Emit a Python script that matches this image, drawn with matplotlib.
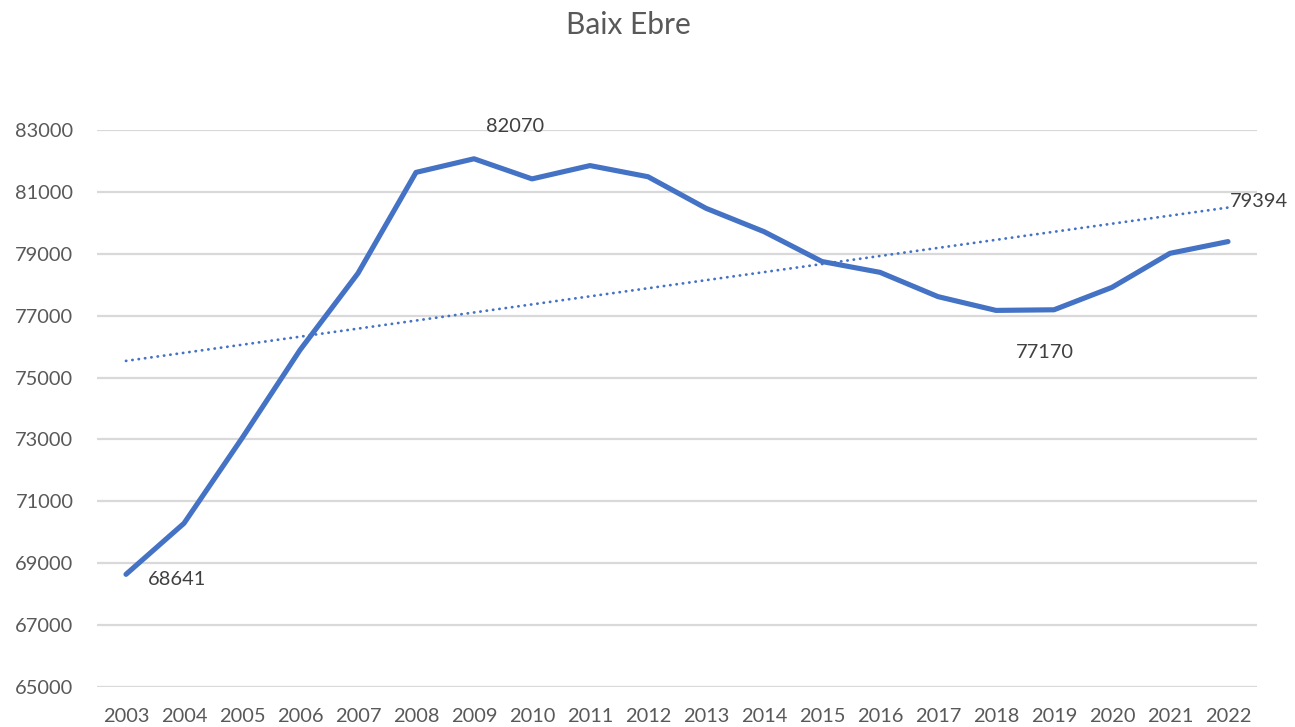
import matplotlib.pyplot as plt
import numpy as np

# -------------------------
# DATA
# -------------------------

years = [str(y) for y in range(2003, 2023)]

population = [
    68641, 70290, 73040, 75890, 78370, 81630, 82070, 81420, 81850, 81490,
    80470, 79715, 78750, 78400, 77615, 77170, 77190, 77915, 79015, 79394,
]

# labelled points: (index, offset in pixels, horizontal alignment)
labelled = [
    (0, (22, -5), 'left'),
    (6, (41, 32), 'center'),
    (15, (49, -42), 'center'),
    (19, (2, 40), 'left'),
]

y_ticks = list(range(65000, 83001, 2000))

# -------------------------
# STYLE
# -------------------------

line_color = '#4472C4'
grid_color = '#D9D9D9'
text_color = '#595959'
font = 'Lato'
label_size = 14.4

plt.rcParams['font.family'] = [font, 'DejaVu Sans']

fig = plt.figure(figsize=(12.95, 7.27), dpi=100)
ax = fig.add_axes([97 / 1295, 40 / 727, 1160 / 1295, 557 / 727])

x = np.arange(len(years))

# main series
ax.plot(
    x,
    population,
    color=line_color,
    linewidth=3.7,
    solid_capstyle='round',
    solid_joinstyle='round',
    zorder=3
)

# linear trendline
slope, intercept = np.polyfit(x, population, 1)
ax.plot(
    x,
    slope * x + intercept,
    color=line_color,
    linewidth=2.0,
    linestyle=(0, (0.1, 2.2)),
    dash_capstyle='round',
    zorder=2
)

# data labels
for idx, offset, ha in labelled:
    ax.annotate(
        str(population[idx]),
        (x[idx], population[idx]),
        xytext=offset,
        textcoords='offset pixels',
        ha=ha,
        va='center',
        fontsize=label_size,
        color='#404040',
        zorder=4
    )

# -------------------------
# AXES
# -------------------------

ax.set_xlim(-0.5, len(years) - 0.5)
ax.set_ylim(65000, 83000)

ax.set_xticks(x)
ax.set_xticklabels(years)
ax.set_yticks(y_ticks)
ax.set_yticklabels([str(v) for v in y_ticks])

ax.tick_params(axis='both', length=0, labelsize=label_size, labelcolor=text_color)
ax.tick_params(axis='y', pad=17)
ax.tick_params(axis='x', pad=15)

ax.yaxis.grid(True, color=grid_color, linewidth=1.6)
ax.set_axisbelow(True)

for side in ['top', 'bottom', 'left', 'right']:
    ax.spines[side].set_visible(False)

fig.text(
    628 / 1295,
    1 - 25 / 727,
    'Baix Ebre',
    ha='center',
    va='center',
    fontsize=21.5,
    color=text_color
)

fig.savefig('out.png', dpi=100)
